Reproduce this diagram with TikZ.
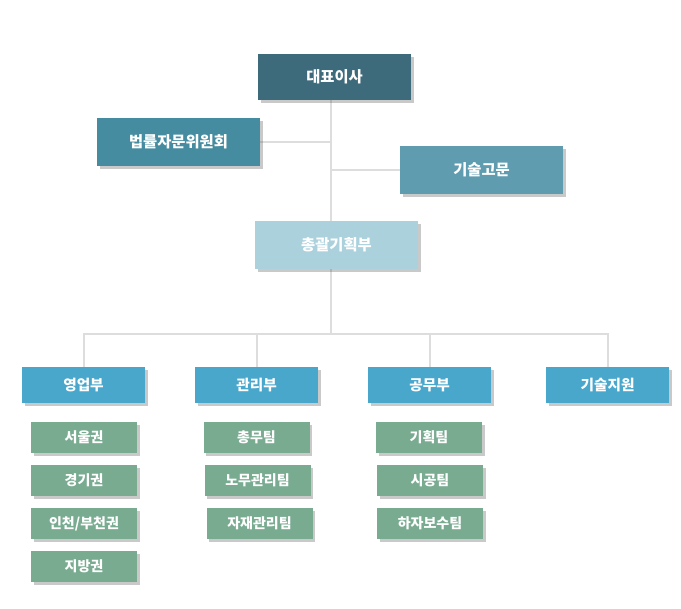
\documentclass[tikz,border=0pt]{standalone}
\usepackage{fontspec}
\setmainfont{Noto Sans CJK KR}
\usetikzlibrary{shadows,backgrounds}
\definecolor{cceo}{HTML}{3E6B7B}
\definecolor{claw}{HTML}{468CA1}
\definecolor{ctech}{HTML}{5F9CAF}
\definecolor{cgm}{HTML}{ABD1DD}
\definecolor{cdept}{HTML}{4AA7CC}
\definecolor{cteam}{HTML}{79AB91}
\definecolor{cline}{HTML}{DDDDDD}
\tikzset{
  box/.style={rectangle, draw=none, text=white, font=\bfseries\fontsize{11.5}{13}\selectfont,
    inner sep=0pt, drop shadow={shadow xshift=2.2pt, shadow yshift=-2.2pt, opacity=0.3, fill=black!70}},
  topbox/.style={box, minimum width=163*0.75pt, minimum height=48*0.75pt},
  dept/.style={box, fill=cdept, minimum width=123*0.75pt, minimum height=36*0.75pt, font=\bfseries\fontsize{11}{12}\selectfont},
  team/.style={box, fill=cteam, minimum width=106*0.75pt, minimum height=31*0.75pt, font=\bfseries\fontsize{10.5}{12}\selectfont},
  conn/.style={draw=cline, line width=1.5pt}
}
\begin{document}
\begin{tikzpicture}[x=0.75pt,y=-0.75pt]
\useasboundingbox (0,0) rectangle (681,608);
\node[box, fill=cceo, minimum width=153*0.75pt, minimum height=46*0.75pt] (ceo) at (334.5,77) {대표이사};
\node[topbox, fill=claw] (law) at (178.5,142) {법률자문위원회};
\node[topbox, fill=ctech] (adv) at (481.5,170) {기술고문};
\node[topbox, fill=cgm] (gm) at (336.5,245) {총괄기획부};
\coordinate (t1) at (331,334);
\node[dept] (d1) at (83.5,385) {영업부};
\node[dept] (d2) at (256.5,385) {관리부};
\node[dept] (d3) at (429.5,385) {공무부};
\node[dept] (d4) at (607.5,385) {기술지원};
\node[team] (s1) at (84,437.5) {서울권};
\node[team] (s2) at (84,480.5) {경기권};
\node[team] (s3) at (84,523.5) {인천/부천권};
\node[team] (s4) at (84,566.5) {지방권};
\node[team] (m1) at (256.5,437.5) {총무팀};
\node[team] (m2) at (257.5,480.5) {노무관리팀};
\node[team] (m3) at (259.5,523.5) {자재관리팀};
\node[team] (c1) at (429,437.5) {기획팀};
\node[team] (c2) at (430,480.5) {시공팀};
\node[team] (c3) at (430,523.5) {하자보수팀};
\begin{pgfonlayer}{background}
\draw[conn] (ceo.south -| t1) -- (gm.north -| t1);
\draw[conn] (gm.south -| t1) -- (t1);
\draw[conn] (law.east) -- (law.east -| t1);
\draw[conn] (adv.west) -- (adv.west -| t1);
\draw[conn] (d1.north) -- (d1.north |- t1) -- (d4.north |- t1) -- (d4.north);
\draw[conn] (d2.north) -- (d2.north |- t1);
\draw[conn] (d3.north) -- (d3.north |- t1);
\end{pgfonlayer}
\end{tikzpicture}
\end{document}
